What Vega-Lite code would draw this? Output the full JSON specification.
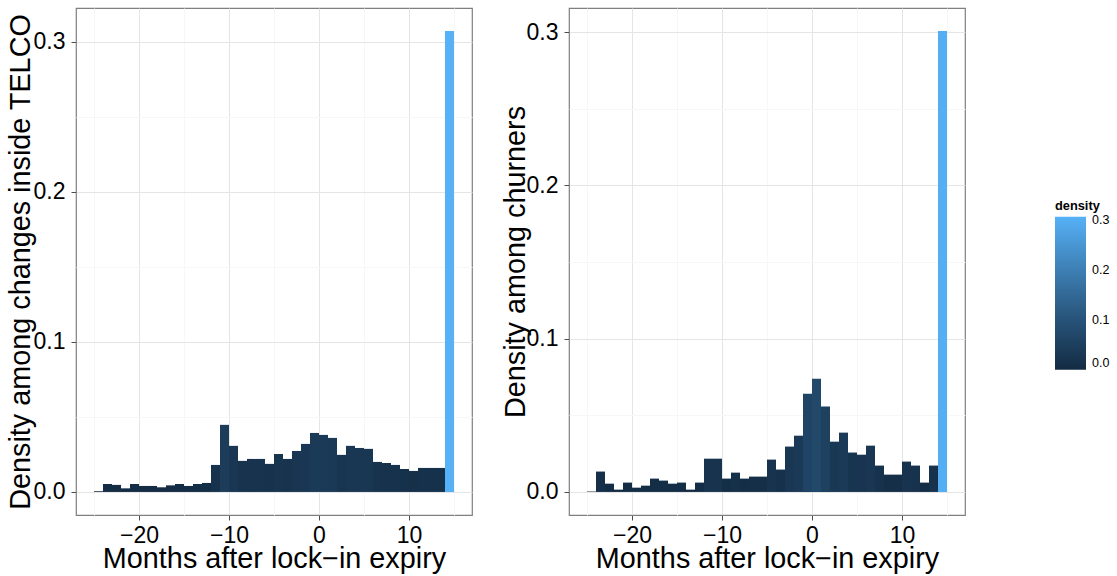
{
  "$schema": "https://vega.github.io/schema/vega-lite/v6.json",
  "autosize": {"type": "pad"},
  "padding": {"left": 5, "top": 7, "right": 0, "bottom": 0},
  "spacing": 27,
  "datasets": {
    "telco": [
      {"month": -25, "month_end": -24, "density": 0.0005},
      {"month": -24, "month_end": -23, "density": 0.0053},
      {"month": -23, "month_end": -22, "density": 0.0047},
      {"month": -22, "month_end": -21, "density": 0.0024},
      {"month": -21, "month_end": -20, "density": 0.0053},
      {"month": -20, "month_end": -19, "density": 0.0040},
      {"month": -19, "month_end": -18, "density": 0.0040},
      {"month": -18, "month_end": -17, "density": 0.0031},
      {"month": -17, "month_end": -16, "density": 0.0044},
      {"month": -16, "month_end": -15, "density": 0.0053},
      {"month": -15, "month_end": -14, "density": 0.0040},
      {"month": -14, "month_end": -13, "density": 0.0053},
      {"month": -13, "month_end": -12, "density": 0.0060},
      {"month": -12, "month_end": -11, "density": 0.0180},
      {"month": -11, "month_end": -10, "density": 0.0447},
      {"month": -10, "month_end": -9, "density": 0.0307},
      {"month": -9, "month_end": -8, "density": 0.0207},
      {"month": -8, "month_end": -7, "density": 0.0220},
      {"month": -7, "month_end": -6, "density": 0.0220},
      {"month": -6, "month_end": -5, "density": 0.0187},
      {"month": -5, "month_end": -4, "density": 0.0253},
      {"month": -4, "month_end": -3, "density": 0.0220},
      {"month": -3, "month_end": -2, "density": 0.0273},
      {"month": -2, "month_end": -1, "density": 0.0320},
      {"month": -1, "month_end": 0, "density": 0.0393},
      {"month": 0, "month_end": 1, "density": 0.0380},
      {"month": 1, "month_end": 2, "density": 0.0360},
      {"month": 2, "month_end": 3, "density": 0.0247},
      {"month": 3, "month_end": 4, "density": 0.0307},
      {"month": 4, "month_end": 5, "density": 0.0293},
      {"month": 5, "month_end": 6, "density": 0.0287},
      {"month": 6, "month_end": 7, "density": 0.0200},
      {"month": 7, "month_end": 8, "density": 0.0193},
      {"month": 8, "month_end": 9, "density": 0.0180},
      {"month": 9, "month_end": 10, "density": 0.0153},
      {"month": 10, "month_end": 11, "density": 0.0140},
      {"month": 11, "month_end": 12, "density": 0.0160},
      {"month": 12, "month_end": 13, "density": 0.0160},
      {"month": 13, "month_end": 14, "density": 0.0160},
      {"month": 14, "month_end": 15, "density": 0.3070}
    ],
    "churners": [
      {"month": -25, "month_end": -24, "density": 0.0003},
      {"month": -24, "month_end": -23, "density": 0.0133},
      {"month": -23, "month_end": -22, "density": 0.0054},
      {"month": -22, "month_end": -21, "density": 0.0015},
      {"month": -21, "month_end": -20, "density": 0.0061},
      {"month": -20, "month_end": -19, "density": 0.0028},
      {"month": -19, "month_end": -18, "density": 0.0041},
      {"month": -18, "month_end": -17, "density": 0.0087},
      {"month": -17, "month_end": -16, "density": 0.0074},
      {"month": -16, "month_end": -15, "density": 0.0054},
      {"month": -15, "month_end": -14, "density": 0.0061},
      {"month": -14, "month_end": -13, "density": 0.0015},
      {"month": -13, "month_end": -12, "density": 0.0061},
      {"month": -12, "month_end": -11, "density": 0.0217},
      {"month": -11, "month_end": -10, "density": 0.0217},
      {"month": -10, "month_end": -9, "density": 0.0087},
      {"month": -9, "month_end": -8, "density": 0.0126},
      {"month": -8, "month_end": -7, "density": 0.0087},
      {"month": -7, "month_end": -6, "density": 0.0100},
      {"month": -6, "month_end": -5, "density": 0.0100},
      {"month": -5, "month_end": -4, "density": 0.0211},
      {"month": -4, "month_end": -3, "density": 0.0146},
      {"month": -3, "month_end": -2, "density": 0.0296},
      {"month": -2, "month_end": -1, "density": 0.0367},
      {"month": -1, "month_end": 0, "density": 0.0641},
      {"month": 0, "month_end": 1, "density": 0.0739},
      {"month": 1, "month_end": 2, "density": 0.0557},
      {"month": 2, "month_end": 3, "density": 0.0328},
      {"month": 3, "month_end": 4, "density": 0.0387},
      {"month": 4, "month_end": 5, "density": 0.0257},
      {"month": 5, "month_end": 6, "density": 0.0243},
      {"month": 6, "month_end": 7, "density": 0.0302},
      {"month": 7, "month_end": 8, "density": 0.0172},
      {"month": 8, "month_end": 9, "density": 0.0113},
      {"month": 9, "month_end": 10, "density": 0.0113},
      {"month": 10, "month_end": 11, "density": 0.0198},
      {"month": 11, "month_end": 12, "density": 0.0172},
      {"month": 12, "month_end": 13, "density": 0.0061},
      {"month": 13, "month_end": 14, "density": 0.0172},
      {"month": 14, "month_end": 15, "density": 0.3007}
    ]
  },
  "hconcat": [
    {
      "width": 396,
      "height": 507,
      "data": {"name": "telco"},
      "mark": {"type": "bar", "strokeWidth": 0},
      "encoding": {
        "x": {
          "field": "month", "type": "quantitative",
          "scale": {"domain": [-27, 17], "nice": false, "zero": false},
          "axis": {
            "title": "Months after lock−in expiry",
            "values": [-25, -20, -15, -10, -5, 0, 5, 10, 15],
            "labelExpr": "datum.value % 10 !== 0 ? '' : datum.label",
            "gridColor": {"condition": {"test": "datum.value % 10 !== 0", "value": "#F7F7F7"}, "value": "#E5E5E5"},
            "tickOpacity": {"condition": {"test": "datum.value % 10 !== 0", "value": 0}, "value": 1},
            "labelPadding": 4,
            "titleY": 52.4, "titleBaseline": "alphabetic"
          }
        },
        "x2": {"field": "month_end"},
        "y": {
          "field": "density", "type": "quantitative",
          "scale": {"domain": [-0.01535, 0.32235], "nice": false, "zero": false},
          "axis": {
            "title": "Density among changes inside TELCO",
            "values": [0, 0.05, 0.1, 0.15, 0.2, 0.25, 0.3],
            "format": ".1f",
            "labelExpr": "abs(datum.value * 10 - round(datum.value * 10)) > 0.01 ? '' : datum.label",
            "gridColor": {"condition": {"test": "abs(datum.value * 10 - round(datum.value * 10)) > 0.01", "value": "#F7F7F7"}, "value": "#E5E5E5"},
            "tickOpacity": {"condition": {"test": "abs(datum.value * 10 - round(datum.value * 10)) > 0.01", "value": 0}, "value": 1},
            "labelPadding": 6,
            "titleX": -46.5, "titleY": 253.5, "titleBaseline": "alphabetic", "titleAngle": 270
          }
        },
        "y2": {"datum": 0},
        "color": {
          "field": "density", "type": "quantitative",
          "scale": {"domain": [0, 0.307], "range": ["#132B43", "#56B1F7"], "interpolate": "lab"},
          "legend": {
            "title": "density",
            "orient": "none", "legendX": 979, "legendY": 192,
            "direction": "vertical",
            "gradientLength": 153, "gradientThickness": 31,
            "gradientStrokeWidth": 0,
            "values": [0, 0.1, 0.2, 0.3], "format": ".1f",
            "titleFontSize": 12.8, "titleFontWeight": "bold", "titleFont": "Liberation Sans", "titleColor": "#000000",
            "labelFontSize": 12.5, "labelFont": "Liberation Sans", "labelColor": "#000000",
            "labelOffset": 6, "titlePadding": 4
          }
        }
      }
    },
    {
      "width": 396,
      "height": 507,
      "data": {"name": "churners"},
      "mark": {"type": "bar", "strokeWidth": 0},
      "encoding": {
        "x": {
          "field": "month", "type": "quantitative",
          "scale": {"domain": [-27, 17], "nice": false, "zero": false},
          "axis": {
            "title": "Months after lock−in expiry",
            "values": [-25, -20, -15, -10, -5, 0, 5, 10, 15],
            "labelExpr": "datum.value % 10 !== 0 ? '' : datum.label",
            "gridColor": {"condition": {"test": "datum.value % 10 !== 0", "value": "#F7F7F7"}, "value": "#E5E5E5"},
            "tickOpacity": {"condition": {"test": "datum.value % 10 !== 0", "value": 0}, "value": 1},
            "labelPadding": 4,
            "titleY": 52.4, "titleBaseline": "alphabetic"
          }
        },
        "x2": {"field": "month_end"},
        "y": {
          "field": "density", "type": "quantitative",
          "scale": {"domain": [-0.01504, 0.3157], "nice": false, "zero": false},
          "axis": {
            "title": "Density among churners",
            "values": [0, 0.05, 0.1, 0.15, 0.2, 0.25, 0.3],
            "format": ".1f",
            "labelExpr": "abs(datum.value * 10 - round(datum.value * 10)) > 0.01 ? '' : datum.label",
            "gridColor": {"condition": {"test": "abs(datum.value * 10 - round(datum.value * 10)) > 0.01", "value": "#F7F7F7"}, "value": "#E5E5E5"},
            "tickOpacity": {"condition": {"test": "abs(datum.value * 10 - round(datum.value * 10)) > 0.01", "value": 0}, "value": 1},
            "labelPadding": 6,
            "titleX": -45, "titleY": 253.5, "titleBaseline": "alphabetic", "titleAngle": 270
          }
        },
        "y2": {"datum": 0},
        "color": {
          "field": "density", "type": "quantitative",
          "scale": {"domain": [0, 0.307], "range": ["#132B43", "#56B1F7"], "interpolate": "lab"}
        }
      }
    }
  ],
  "resolve": {"scale": {"color": "shared"}},
  "config": {
    "view": {"stroke": "#7F7F7F", "strokeWidth": 1.2},
    "axis": {
      "labelFont": "Liberation Sans", "titleFont": "Liberation Sans",
      "labelFontSize": 23, "titleFontSize": 28.8, "titleFontWeight": "normal",
      "labelColor": "#000000", "titleColor": "#000000",
      "domain": false, "tickColor": "#4D4D4D", "tickSize": 5, "tickWidth": 1,
      "gridWidth": 1, "grid": true,
      "labelOverlap": false, "labelFlush": false
    }
  }
}
